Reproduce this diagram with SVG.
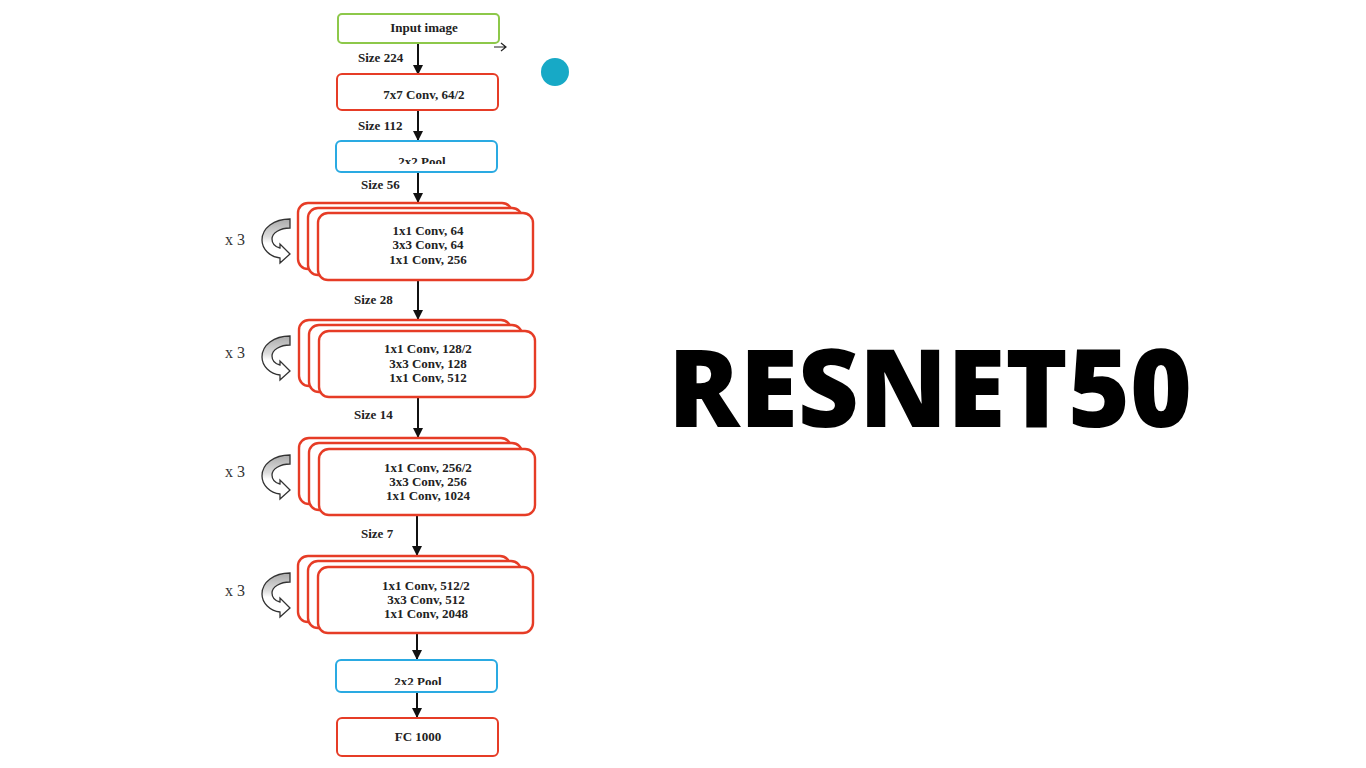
<svg xmlns="http://www.w3.org/2000/svg" width="1366" height="768" viewBox="0 0 1366 768">
<style>
.box{fill:#fff;stroke-width:2}
.stk{stroke-width:2.4}
.red{stroke:#e63c26}
.green{stroke:#8dc84a}
.blue{stroke:#2aaae2}
.t{font-family:"Liberation Serif",serif;font-weight:bold;font-size:13px;fill:#222;text-anchor:middle}
.sz{font-family:"Liberation Serif",serif;font-weight:bold;font-size:13px;fill:#222}
.x3{font-family:"Liberation Serif",serif;font-size:16px;fill:#333}
.con{stroke:#111;stroke-width:2;fill:none}
.loop{stroke:#333;stroke-width:1.3;fill:url(#lg)}
</style>
<defs>
<marker id="ah" viewBox="0 0 10 10" refX="9" refY="5" markerWidth="5" markerHeight="5" orient="auto">
<path d="M0,0 L10,5 L0,10 Z" fill="#111"/>
</marker>
<linearGradient id="lg" x1="0" y1="0" x2="0" y2="1">
<stop offset="0" stop-color="#aaa"/>
<stop offset="0.4" stop-color="#ddd"/>
<stop offset="0.55" stop-color="#fff"/>
<stop offset="1" stop-color="#fff"/>
</linearGradient>
<clipPath id="c1"><rect x="336" y="141" width="162" height="23"/></clipPath>
<clipPath id="c2"><rect x="336" y="660" width="162" height="25"/></clipPath>
<path id="loopshape" d="M28,0 L28,9 C18,9 10,14 10,20 C10,25 14,28 18,29 L18,25 L28,35 L18,44 L18,39 C8,38 0,30 0,21 C0,9 12,0 28,0 Z"/>
</defs>

<g id="connectors">
<line class="con" x1="418" y1="43" x2="418" y2="74" marker-end="url(#ah)"/>
<line class="con" x1="418" y1="110" x2="418" y2="140" marker-end="url(#ah)"/>
<line class="con" x1="418" y1="172" x2="418" y2="202" marker-end="url(#ah)"/>
<line class="con" x1="418" y1="281" x2="418" y2="319" marker-end="url(#ah)"/>
<line class="con" x1="418" y1="397" x2="418" y2="437" marker-end="url(#ah)"/>
<line class="con" x1="417" y1="515" x2="417" y2="555" marker-end="url(#ah)"/>
<line class="con" x1="417" y1="633" x2="417" y2="659" marker-end="url(#ah)"/>
<line class="con" x1="417" y1="692" x2="417" y2="717" marker-end="url(#ah)"/>
<path d="M494,47 L506,47 M501,43 L506,47 L501,51" stroke="#222" stroke-width="1.2" fill="none"/>
</g>

<g id="labels">
<text class="sz" x="358" y="62">Size 224</text>
<text class="sz" x="358" y="130">Size 112</text>
<text class="sz" x="361" y="189">Size 56</text>
<text class="sz" x="354" y="304">Size 28</text>
<text class="sz" x="354" y="419">Size 14</text>
<text class="sz" x="361" y="538">Size 7</text>
</g>

<circle id="dot" cx="555" cy="72" r="14" fill="#17a9c6"/>

<g id="input">
<rect class="box green" x="338" y="14" width="161" height="29" rx="4"/>
<text class="t" x="424" y="32">Input image</text>
</g>
<g id="conv1">
<rect class="box red" x="337" y="74" width="161" height="36" rx="5"/>
<text class="t" x="424" y="99">7x7 Conv, 64/2</text>
</g>
<g id="pool1">
<rect class="box blue" x="336" y="141" width="161" height="31" rx="5"/>
<text class="t" x="422" y="166" clip-path="url(#c1)">2x2 Pool</text>
</g>

<g id="stage1">
<rect class="box red stk" x="298" y="203" width="214" height="66" rx="10"/>
<rect class="box red stk" x="308" y="208" width="214" height="67" rx="10"/>
<rect class="box red stk" x="318" y="213" width="215" height="67" rx="10"/>
<text class="t" x="428" y="235">1x1 Conv, 64</text>
<text class="t" x="428" y="249">3x3 Conv, 64</text>
<text class="t" x="428" y="264">1x1 Conv, 256</text>
<text class="x3" x="225" y="245">x 3</text>
<use href="#loopshape" class="loop" x="262" y="219"/>
</g>

<g id="stage2">
<rect class="box red stk" x="299" y="320" width="212" height="66" rx="10"/>
<rect class="box red stk" x="309" y="325" width="213" height="67" rx="10"/>
<rect class="box red stk" x="319" y="331" width="216" height="66" rx="10"/>
<text class="t" x="428" y="353">1x1 Conv, 128/2</text>
<text class="t" x="428" y="368">3x3 Conv, 128</text>
<text class="t" x="428" y="382">1x1 Conv, 512</text>
<text class="x3" x="225" y="358">x 3</text>
<use href="#loopshape" class="loop" x="262" y="336"/>
</g>

<g id="stage3">
<rect class="box red stk" x="299" y="438" width="212" height="66" rx="10"/>
<rect class="box red stk" x="309" y="443" width="213" height="67" rx="10"/>
<rect class="box red stk" x="319" y="449" width="216" height="66" rx="10"/>
<text class="t" x="428" y="472">1x1 Conv, 256/2</text>
<text class="t" x="428" y="486">3x3 Conv, 256</text>
<text class="t" x="428" y="500">1x1 Conv, 1024</text>
<text class="x3" x="225" y="477">x 3</text>
<use href="#loopshape" class="loop" x="262" y="455"/>
</g>

<g id="stage4">
<rect class="box red stk" x="298" y="556" width="212" height="66" rx="10"/>
<rect class="box red stk" x="308" y="561" width="213" height="67" rx="10"/>
<rect class="box red stk" x="318" y="567" width="215" height="66" rx="10"/>
<text class="t" x="426" y="590">1x1 Conv, 512/2</text>
<text class="t" x="426" y="604">3x3 Conv, 512</text>
<text class="t" x="426" y="618">1x1 Conv, 2048</text>
<text class="x3" x="225" y="596">x 3</text>
<use href="#loopshape" class="loop" x="262" y="573"/>
</g>

<g id="pool2">
<rect class="box blue" x="336" y="660" width="161" height="32" rx="5"/>
<text class="t" x="418" y="686" clip-path="url(#c2)">2x2 Pool</text>
</g>
<g id="fc">
<rect class="box red" x="337" y="718" width="161" height="38" rx="5"/>
<text class="t" x="418" y="741">FC 1000</text>
</g>

<text id="title" x="668" y="427" font-family="'Open Sans',sans-serif" font-weight="800" font-size="108" textLength="524" lengthAdjust="spacingAndGlyphs" fill="#000">RESNET50</text>
</svg>
